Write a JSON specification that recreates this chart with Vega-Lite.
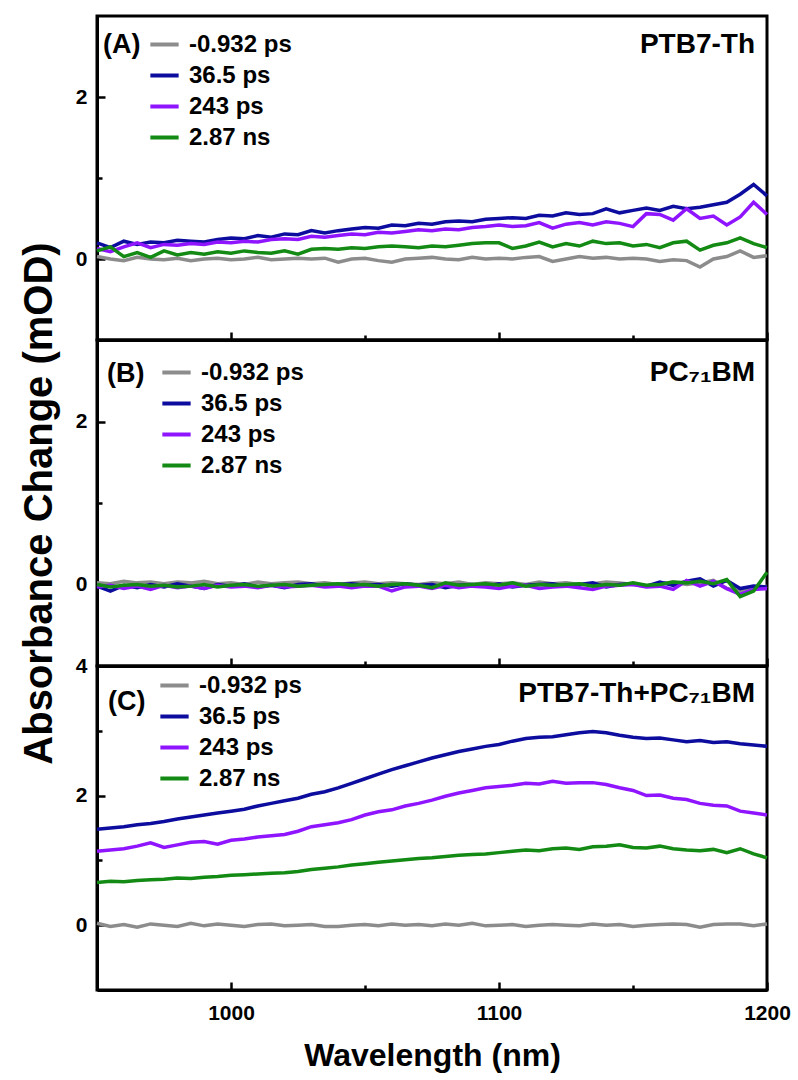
{
  "$schema": "https://vega.github.io/schema/vega-lite/v6.json",
  "background": "white",
  "padding": {"left": 17, "top": 14, "right": 5, "bottom": 5},
  "spacing": 0,
  "bounds": "flush",
  "datasets": {
    "A": [
      {"x":950,"a":0.03,"b":0.20,"c":0.13,"d":0.10},{"x":955,"a":0.00,"b":0.14,"c":0.09,"d":0.15},{"x":960,"a":-0.02,"b":0.22,"c":0.15,"d":0.03},{"x":965,"a":0.02,"b":0.18,"c":0.20,"d":0.08},{"x":970,"a":0.00,"b":0.21,"c":0.14,"d":0.02},
      {"x":975,"a":-0.01,"b":0.20,"c":0.18,"d":0.10},{"x":980,"a":0.01,"b":0.23,"c":0.17,"d":0.05},{"x":985,"a":-0.02,"b":0.22,"c":0.19,"d":0.08},{"x":990,"a":0.00,"b":0.21,"c":0.18,"d":0.06},{"x":995,"a":0.01,"b":0.24,"c":0.21,"d":0.09},
      {"x":1000,"a":-0.01,"b":0.26,"c":0.20,"d":0.07},{"x":1005,"a":0.00,"b":0.25,"c":0.22,"d":0.10},{"x":1010,"a":0.02,"b":0.29,"c":0.21,"d":0.08},{"x":1015,"a":-0.01,"b":0.27,"c":0.24,"d":0.07},{"x":1020,"a":0.00,"b":0.31,"c":0.25,"d":0.10},
      {"x":1025,"a":0.01,"b":0.30,"c":0.24,"d":0.06},{"x":1030,"a":0.00,"b":0.35,"c":0.28,"d":0.12},{"x":1035,"a":0.01,"b":0.32,"c":0.27,"d":0.13},{"x":1040,"a":-0.04,"b":0.35,"c":0.29,"d":0.12},{"x":1045,"a":0.00,"b":0.37,"c":0.31,"d":0.14},
      {"x":1050,"a":0.01,"b":0.39,"c":0.30,"d":0.13},{"x":1055,"a":-0.02,"b":0.38,"c":0.33,"d":0.15},{"x":1060,"a":-0.04,"b":0.42,"c":0.32,"d":0.16},{"x":1065,"a":0.00,"b":0.41,"c":0.34,"d":0.15},{"x":1070,"a":0.01,"b":0.44,"c":0.36,"d":0.14},
      {"x":1075,"a":0.02,"b":0.43,"c":0.35,"d":0.16},{"x":1080,"a":0.00,"b":0.46,"c":0.37,"d":0.15},{"x":1085,"a":-0.01,"b":0.47,"c":0.36,"d":0.17},{"x":1090,"a":0.02,"b":0.46,"c":0.39,"d":0.19},{"x":1095,"a":0.00,"b":0.49,"c":0.40,"d":0.20},
      {"x":1100,"a":0.01,"b":0.50,"c":0.42,"d":0.20},{"x":1105,"a":0.00,"b":0.51,"c":0.40,"d":0.13},{"x":1110,"a":0.02,"b":0.50,"c":0.41,"d":0.16},{"x":1115,"a":0.03,"b":0.54,"c":0.45,"d":0.21},{"x":1120,"a":-0.03,"b":0.53,"c":0.38,"d":0.15},
      {"x":1125,"a":0.00,"b":0.57,"c":0.43,"d":0.19},{"x":1130,"a":0.03,"b":0.55,"c":0.45,"d":0.16},{"x":1135,"a":0.01,"b":0.56,"c":0.42,"d":0.22},{"x":1140,"a":0.02,"b":0.62,"c":0.46,"d":0.19},{"x":1145,"a":0.00,"b":0.57,"c":0.44,"d":0.20},
      {"x":1150,"a":0.01,"b":0.60,"c":0.40,"d":0.16},{"x":1155,"a":0.00,"b":0.63,"c":0.56,"d":0.18},{"x":1160,"a":-0.03,"b":0.60,"c":0.55,"d":0.14},{"x":1165,"a":-0.01,"b":0.65,"c":0.48,"d":0.20},{"x":1170,"a":-0.02,"b":0.62,"c":0.62,"d":0.22},
      {"x":1175,"a":-0.10,"b":0.64,"c":0.50,"d":0.11},{"x":1180,"a":0.00,"b":0.67,"c":0.53,"d":0.17},{"x":1185,"a":0.03,"b":0.70,"c":0.42,"d":0.20},{"x":1190,"a":0.10,"b":0.80,"c":0.52,"d":0.26},{"x":1195,"a":0.02,"b":0.92,"c":0.70,"d":0.19},
      {"x":1200,"a":0.04,"b":0.78,"c":0.55,"d":0.14}
    ],
    "B": [
      {"x":950,"a":0.02,"b":-0.02,"c":-0.03,"d":0.00},{"x":955,"a":0.01,"b":-0.08,"c":-0.01,"d":-0.03},{"x":960,"a":0.04,"b":-0.01,"c":-0.05,"d":-0.01},{"x":965,"a":0.02,"b":-0.04,"c":-0.02,"d":0.00},{"x":970,"a":0.03,"b":0.00,"c":-0.06,"d":-0.02},
      {"x":975,"a":0.01,"b":-0.03,"c":-0.01,"d":-0.01},{"x":980,"a":0.03,"b":0.01,"c":-0.04,"d":-0.03},{"x":985,"a":0.02,"b":-0.02,"c":-0.02,"d":-0.02},{"x":990,"a":0.04,"b":-0.05,"c":-0.05,"d":0.00},{"x":995,"a":0.01,"b":0.00,"c":-0.01,"d":-0.03},
      {"x":1000,"a":0.02,"b":-0.02,"c":-0.03,"d":-0.01},{"x":1005,"a":0.00,"b":0.01,"c":-0.02,"d":0.00},{"x":1010,"a":0.03,"b":-0.03,"c":-0.04,"d":-0.02},{"x":1015,"a":0.01,"b":-0.01,"c":-0.01,"d":-0.01},{"x":1020,"a":0.02,"b":-0.04,"c":-0.03,"d":0.00},
      {"x":1025,"a":0.03,"b":0.00,"c":-0.02,"d":-0.02},{"x":1030,"a":0.01,"b":0.01,"c":-0.01,"d":-0.01},{"x":1035,"a":0.02,"b":-0.02,"c":-0.03,"d":0.00},{"x":1040,"a":0.00,"b":0.00,"c":-0.02,"d":0.01},{"x":1045,"a":0.02,"b":0.01,"c":-0.04,"d":-0.01},
      {"x":1050,"a":0.03,"b":-0.01,"c":-0.02,"d":0.00},{"x":1055,"a":0.01,"b":0.00,"c":-0.02,"d":-0.02},{"x":1060,"a":0.02,"b":-0.02,"c":-0.08,"d":0.00},{"x":1065,"a":0.01,"b":0.01,"c":-0.03,"d":0.01},{"x":1070,"a":0.00,"b":-0.01,"c":-0.02,"d":-0.01},
      {"x":1075,"a":0.02,"b":0.00,"c":-0.05,"d":-0.04},{"x":1080,"a":0.01,"b":-0.04,"c":-0.01,"d":0.02},{"x":1085,"a":0.03,"b":-0.01,"c":-0.04,"d":-0.01},{"x":1090,"a":0.00,"b":0.00,"c":-0.02,"d":0.00},{"x":1095,"a":0.02,"b":-0.02,"c":-0.03,"d":0.01},
      {"x":1100,"a":0.01,"b":0.01,"c":-0.05,"d":-0.01},{"x":1105,"a":0.02,"b":-0.03,"c":-0.02,"d":0.02},{"x":1110,"a":0.00,"b":-0.01,"c":-0.01,"d":-0.02},{"x":1115,"a":0.03,"b":0.00,"c":-0.05,"d":0.00},{"x":1120,"a":0.01,"b":0.01,"c":-0.03,"d":-0.01},
      {"x":1125,"a":0.02,"b":-0.02,"c":-0.02,"d":0.00},{"x":1130,"a":0.00,"b":0.00,"c":-0.04,"d":0.01},{"x":1135,"a":0.01,"b":0.02,"c":-0.06,"d":-0.02},{"x":1140,"a":0.03,"b":-0.03,"c":-0.02,"d":0.00},{"x":1145,"a":0.02,"b":0.00,"c":-0.01,"d":-0.01},
      {"x":1150,"a":0.00,"b":0.01,"c":0.00,"d":0.02},{"x":1155,"a":-0.02,"b":-0.02,"c":-0.03,"d":-0.01},{"x":1160,"a":0.01,"b":0.03,"c":-0.02,"d":0.00},{"x":1165,"a":0.03,"b":-0.01,"c":-0.06,"d":0.03},{"x":1170,"a":0.00,"b":0.04,"c":0.05,"d":0.02},
      {"x":1175,"a":0.02,"b":0.07,"c":-0.02,"d":0.04},{"x":1180,"a":0.05,"b":-0.02,"c":0.04,"d":0.01},{"x":1185,"a":-0.05,"b":0.05,"c":-0.05,"d":0.06},{"x":1190,"a":-0.08,"b":-0.05,"c":-0.12,"d":-0.15},{"x":1195,"a":-0.06,"b":-0.02,"c":-0.06,"d":-0.08},
      {"x":1200,"a":-0.02,"b":-0.03,"c":-0.05,"d":0.15}
    ],
    "C": [
      {"x":950,"a":0.03,"b":1.48,"c":1.14,"d":0.66},{"x":955,"a":-0.02,"b":1.50,"c":1.16,"d":0.68},{"x":960,"a":0.01,"b":1.52,"c":1.18,"d":0.67},{"x":965,"a":-0.03,"b":1.55,"c":1.22,"d":0.69},{"x":970,"a":0.02,"b":1.57,"c":1.27,"d":0.70},
      {"x":975,"a":0.00,"b":1.60,"c":1.20,"d":0.71},{"x":980,"a":-0.02,"b":1.64,"c":1.24,"d":0.73},{"x":985,"a":0.03,"b":1.67,"c":1.28,"d":0.72},{"x":990,"a":-0.01,"b":1.70,"c":1.29,"d":0.74},{"x":995,"a":0.02,"b":1.73,"c":1.25,"d":0.75},
      {"x":1000,"a":0.00,"b":1.76,"c":1.31,"d":0.77},{"x":1005,"a":-0.02,"b":1.79,"c":1.33,"d":0.78},{"x":1010,"a":0.01,"b":1.84,"c":1.36,"d":0.79},{"x":1015,"a":0.02,"b":1.88,"c":1.38,"d":0.80},{"x":1020,"a":-0.01,"b":1.92,"c":1.40,"d":0.81},
      {"x":1025,"a":0.00,"b":1.96,"c":1.45,"d":0.83},{"x":1030,"a":0.01,"b":2.02,"c":1.52,"d":0.86},{"x":1035,"a":-0.02,"b":2.06,"c":1.55,"d":0.88},{"x":1040,"a":-0.02,"b":2.12,"c":1.58,"d":0.90},{"x":1045,"a":0.00,"b":2.19,"c":1.63,"d":0.93},
      {"x":1050,"a":0.01,"b":2.26,"c":1.70,"d":0.95},{"x":1055,"a":-0.01,"b":2.33,"c":1.75,"d":0.97},{"x":1060,"a":0.02,"b":2.40,"c":1.78,"d":0.99},{"x":1065,"a":0.00,"b":2.46,"c":1.84,"d":1.01},{"x":1070,"a":0.01,"b":2.52,"c":1.88,"d":1.03},
      {"x":1075,"a":-0.01,"b":2.58,"c":1.93,"d":1.04},{"x":1080,"a":0.02,"b":2.63,"c":1.99,"d":1.06},{"x":1085,"a":0.00,"b":2.68,"c":2.04,"d":1.08},{"x":1090,"a":0.03,"b":2.72,"c":2.08,"d":1.09},{"x":1095,"a":-0.01,"b":2.76,"c":2.12,"d":1.10},
      {"x":1100,"a":0.00,"b":2.79,"c":2.14,"d":1.12},{"x":1105,"a":0.01,"b":2.84,"c":2.16,"d":1.14},{"x":1110,"a":-0.02,"b":2.88,"c":2.19,"d":1.16},{"x":1115,"a":0.00,"b":2.90,"c":2.18,"d":1.15},{"x":1120,"a":0.01,"b":2.91,"c":2.22,"d":1.18},
      {"x":1125,"a":0.00,"b":2.94,"c":2.19,"d":1.19},{"x":1130,"a":-0.01,"b":2.97,"c":2.20,"d":1.17},{"x":1135,"a":0.02,"b":2.99,"c":2.20,"d":1.21},{"x":1140,"a":0.00,"b":2.97,"c":2.17,"d":1.22},{"x":1145,"a":0.01,"b":2.93,"c":2.12,"d":1.24},
      {"x":1150,"a":-0.02,"b":2.90,"c":2.08,"d":1.20},{"x":1155,"a":0.00,"b":2.88,"c":2.00,"d":1.19},{"x":1160,"a":0.01,"b":2.89,"c":2.01,"d":1.22},{"x":1165,"a":0.02,"b":2.86,"c":1.96,"d":1.18},{"x":1170,"a":0.01,"b":2.83,"c":1.94,"d":1.16},
      {"x":1175,"a":-0.03,"b":2.85,"c":1.88,"d":1.15},{"x":1180,"a":0.01,"b":2.82,"c":1.85,"d":1.17},{"x":1185,"a":0.02,"b":2.83,"c":1.84,"d":1.12},{"x":1190,"a":0.02,"b":2.80,"c":1.76,"d":1.18},{"x":1195,"a":-0.01,"b":2.78,"c":1.73,"d":1.10},
      {"x":1200,"a":0.02,"b":2.76,"c":1.70,"d":1.04}
    ]
  },
  "config": {
    "font": "Liberation Sans",
    "view": {"stroke": "black", "strokeWidth": 3},
    "axis": {
      "grid": false,
      "domainColor": "black", "domainWidth": 3,
      "tickColor": "black", "tickWidth": 2.5,
      "labelFont": "Liberation Sans", "labelFontWeight": "bold", "labelFontSize": 21, "labelColor": "black",
      "labelFlush": false, "labelOverlap": false,
      "titleFont": "Liberation Sans", "titleFontWeight": "bold", "titleFontSize": 32, "titleColor": "black"
    },
    "legend": {
      "orient": "none", "title": null, "padding": 0,
      "symbolType": "stroke", "symbolStrokeWidth": 4, "symbolSize": 800,
      "labelFont": "Liberation Sans", "labelFontSize": 24, "labelFontWeight": "bold", "labelColor": "black",
      "labelOffset": 8, "rowPadding": 2
    },
    "text": {"font": "Liberation Sans", "fontWeight": "bold", "color": "black"}
  },
  "resolve": {"scale": {"color": "independent"}, "legend": {"color": "independent"}},
  "vconcat": [
    {
      "width": 670, "height": 324,
      "layer": [
        {
          "data": {"name": "A"},
          "transform": [{"fold": ["a", "b", "c", "d"], "as": ["s", "v"]}],
          "mark": {"type": "line", "strokeWidth": 3.5},
          "encoding": {
            "x": {"field": "x", "type": "quantitative", "scale": {"domain": [950, 1200], "nice": false},
                  "axis": {"values": [1000, 1050, 1100, 1150, 1200], "labels": false, "title": null,
                           "tickSize": {"condition": {"test": "datum.value % 100 != 0", "value": -5}, "value": -8}}},
            "y": {"field": "v", "type": "quantitative", "scale": {"domain": [-1, 3], "nice": false},
                  "axis": {"values": [0, 1, 2], "title": null, "labelPadding": 18, "format": "d",
                           "labelExpr": "datum.value % 2 == 0 ? datum.label : ''",
                           "tickSize": {"condition": {"test": "datum.value % 2 != 0", "value": -5}, "value": -8}}},
            "color": {"field": "s", "type": "nominal",
                      "scale": {"domain": ["a", "b", "c", "d"], "range": ["#8c8c8c", "#0c0c9e", "#8f14ff", "#138a13"]},
                      "legend": {"legendX": 51, "legendY": 12,
                                 "labelExpr": "datum.label == 'a' ? '-0.932 ps' : datum.label == 'b' ? '36.5 ps' : datum.label == 'c' ? '243 ps' : '2.87 ns'"}}
          }
        },
        {
          "data": {"values": [{"t": "(A)"}]},
          "mark": {"type": "text", "align": "left", "baseline": "middle", "fontSize": 27, "dx": 6, "dy": 29},
          "encoding": {"x": {"datum": 950, "type": "quantitative"}, "y": {"datum": 3, "type": "quantitative"}, "text": {"field": "t"}}
        },
        {
          "data": {"values": [{"t": "PTB7-Th"}]},
          "mark": {"type": "text", "align": "right", "baseline": "middle", "fontSize": 28, "dx": -12, "dy": 29},
          "encoding": {"x": {"datum": 1200, "type": "quantitative"}, "y": {"datum": 3, "type": "quantitative"}, "text": {"field": "t"}}
        }
      ]
    },
    {
      "width": 670, "height": 326,
      "layer": [
        {
          "data": {"name": "B"},
          "transform": [{"fold": ["a", "b", "c", "d"], "as": ["s", "v"]}],
          "mark": {"type": "line", "strokeWidth": 3.5},
          "encoding": {
            "x": {"field": "x", "type": "quantitative", "scale": {"domain": [950, 1200], "nice": false},
                  "axis": {"values": [1000, 1050, 1100, 1150, 1200], "labels": false, "title": null,
                           "tickSize": {"condition": {"test": "datum.value % 100 != 0", "value": -5}, "value": -8}}},
            "y": {"field": "v", "type": "quantitative", "scale": {"domain": [-1, 3], "nice": false},
                  "axis": {"values": [0, 1, 2], "title": "Absorbance Change (mOD)", "titleFontSize": 40, "titlePadding": 16,
                           "labelPadding": 18, "format": "d",
                           "labelExpr": "datum.value % 2 == 0 ? datum.label : ''",
                           "tickSize": {"condition": {"test": "datum.value % 2 != 0", "value": -5}, "value": -8}}},
            "color": {"field": "s", "type": "nominal",
                      "scale": {"domain": ["a", "b", "c", "d"], "range": ["#8c8c8c", "#0c0c9e", "#8f14ff", "#138a13"]},
                      "legend": {"legendX": 63, "legendY": 16,
                                 "labelExpr": "datum.label == 'a' ? '-0.932 ps' : datum.label == 'b' ? '36.5 ps' : datum.label == 'c' ? '243 ps' : '2.87 ns'"}}
          }
        },
        {
          "data": {"values": [{"t": "(B)"}]},
          "mark": {"type": "text", "align": "left", "baseline": "middle", "fontSize": 27, "dx": 10, "dy": 34},
          "encoding": {"x": {"datum": 950, "type": "quantitative"}, "y": {"datum": 3, "type": "quantitative"}, "text": {"field": "t"}}
        },
        {
          "data": {"values": [{"t": "PC₇₁BM"}]},
          "mark": {"type": "text", "align": "right", "baseline": "middle", "fontSize": 28, "dx": -12, "dy": 33},
          "encoding": {"x": {"datum": 1200, "type": "quantitative"}, "y": {"datum": 3, "type": "quantitative"}, "text": {"field": "t"}}
        }
      ]
    },
    {
      "width": 670, "height": 324,
      "layer": [
        {
          "data": {"name": "C"},
          "transform": [{"fold": ["a", "b", "c", "d"], "as": ["s", "v"]}],
          "mark": {"type": "line", "strokeWidth": 3.5},
          "encoding": {
            "x": {"field": "x", "type": "quantitative", "scale": {"domain": [950, 1200], "nice": false},
                  "axis": {"values": [1000, 1050, 1100, 1150, 1200], "title": "Wavelength (nm)", "titlePadding": 14,
                           "labelPadding": 20, "format": "d",
                           "labelExpr": "datum.value % 100 == 0 ? datum.label : ''",
                           "tickSize": {"condition": {"test": "datum.value % 100 != 0", "value": -5}, "value": -8}}},
            "y": {"field": "v", "type": "quantitative", "scale": {"domain": [-1, 4], "nice": false},
                  "axis": {"values": [0, 1, 2, 3, 4], "title": null, "labelPadding": 18, "format": "d",
                           "labelExpr": "datum.value % 2 == 0 ? datum.label : ''",
                           "tickSize": {"condition": {"test": "datum.value % 2 != 0", "value": -5}, "value": -8}}},
            "color": {"field": "s", "type": "nominal",
                      "scale": {"domain": ["a", "b", "c", "d"], "range": ["#8c8c8c", "#0c0c9e", "#8f14ff", "#138a13"]},
                      "legend": {"legendX": 61, "legendY": 3,
                                 "labelExpr": "datum.label == 'a' ? '-0.932 ps' : datum.label == 'b' ? '36.5 ps' : datum.label == 'c' ? '243 ps' : '2.87 ns'"}}
          }
        },
        {
          "data": {"values": [{"t": "(C)"}]},
          "mark": {"type": "text", "align": "left", "baseline": "middle", "fontSize": 27, "dx": 11, "dy": 36},
          "encoding": {"x": {"datum": 950, "type": "quantitative"}, "y": {"datum": 4, "type": "quantitative"}, "text": {"field": "t"}}
        },
        {
          "data": {"values": [{"t": "PTB7-Th+PC₇₁BM"}]},
          "mark": {"type": "text", "align": "right", "baseline": "middle", "fontSize": 28, "dx": -12, "dy": 28},
          "encoding": {"x": {"datum": 1200, "type": "quantitative"}, "y": {"datum": 4, "type": "quantitative"}, "text": {"field": "t"}}
        }
      ]
    }
  ]
}
